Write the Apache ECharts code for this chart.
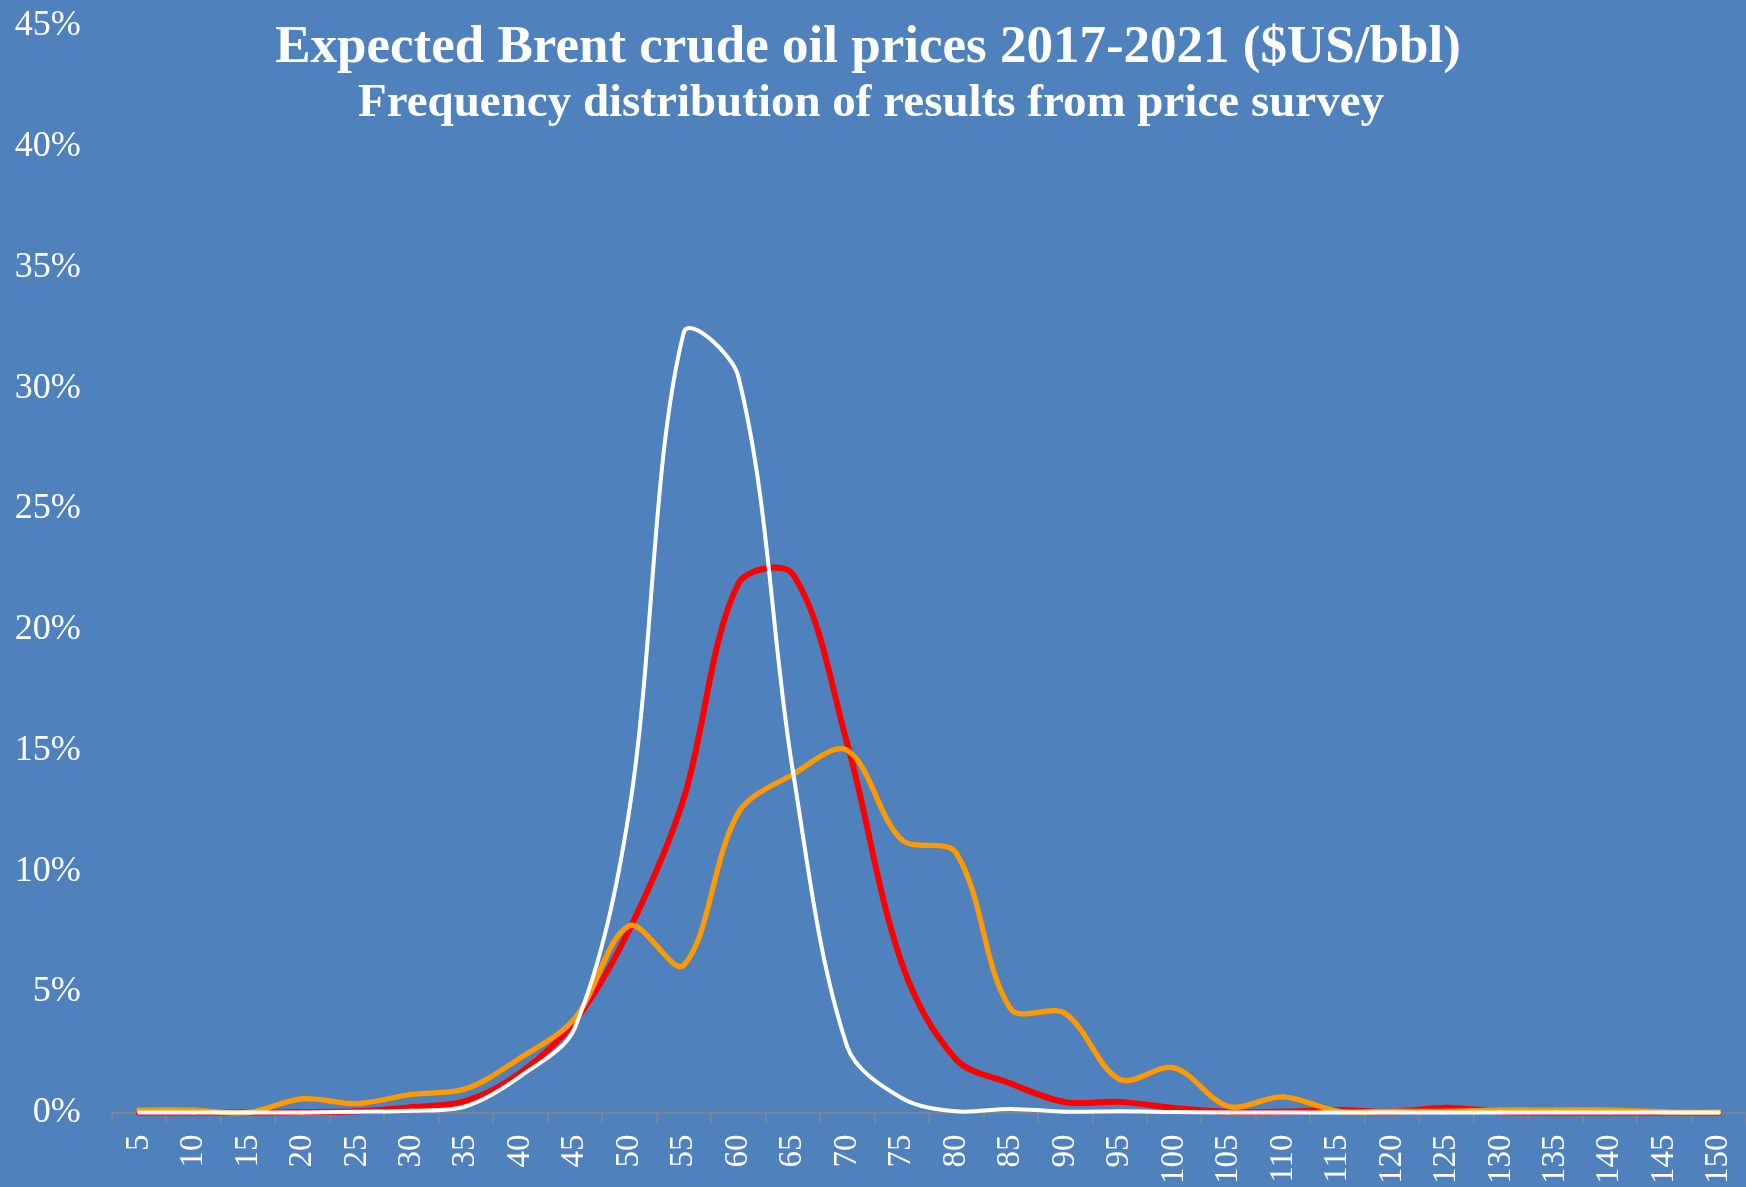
<!DOCTYPE html>
<html>
<head>
<meta charset="utf-8">
<script src="https://cdn.jsdelivr.net/npm/echarts@6/dist/echarts.min.js"></script>
<style>
html,body{margin:0;padding:0;background:#4F81BD;}
#chart{width:1746px;height:1187px;}
</style>
</head>
<body>
<div id="chart"></div>
<script>
const categories = ['5','10','15','20','25','30','35','40','45','50','55','60','65','70','75','80','85','90','95','100','105','110','115','120','125','130','135','140','145','150'];
const whiteSeries = [0, 0, 0, 0, 0.03, 0.07, 0.26, 1.5, 3.5, 12.5, 32.3, 30.5, 14.2, 2.74, 0.6, 0.05, 0.15, 0.03, 0.05, 0.02, 0, 0, 0, 0, 0, 0, 0, 0, 0, 0];
const redSeries = [0, 0, 0, 0.02, 0.05, 0.22, 0.47, 1.64, 3.78, 7.57, 13.0, 21.9, 22.3, 15.3, 6.2, 2.2, 1.2, 0.43, 0.44, 0.19, 0.03, 0.03, 0.1, 0.03, 0.2, 0.03, 0, 0, 0, 0];
const orangeSeries = [0.1, 0.1, 0, 0.57, 0.37, 0.75, 0.98, 2.26, 3.9, 7.74, 6.1, 12.4, 14.0, 15.0, 11.3, 10.75, 4.3, 4.1, 1.37, 1.85, 0.25, 0.65, 0.06, 0.05, 0.05, 0.1, 0.1, 0.1, 0.03, 0.02];
const yTicks = {min: 0, max: 45, interval: 5};
const titleText = 'Expected Brent crude oil prices 2017-2021 ($US/bbl)';
const subtitleText = 'Frequency distribution of results from price survey';

const serif = '"Liberation Serif", "Times New Roman", serif';

// Smoothed line (Excel-like chord-weighted Bezier), points placed through the chart's own axes via api.coord
function smoothCurve(name, values, color, width, z) {
  const n = values.length;
  const s = 1 / 3;
  return {
    name: name,
    type: 'custom',
    z: z,
    clip: false,
    data: values.map((v, i) => [i, v]),
    encode: {x: 0, y: 1},
    renderItem: function (params, api) {
      const i = params.dataIndex;
      if (i >= n - 1) return {type: 'group', children: []};
      const pt = k => {
        const kk = Math.max(0, Math.min(n - 1, k));
        return api.coord([kk, values[kk]]);
      };
      const dist = (a, b) => Math.hypot(b[0] - a[0], b[1] - a[1]);
      const p0 = pt(i - 1), p1 = pt(i), p2 = pt(i + 1), p3 = pt(i + 2);
      let c1 = [p1[0], p1[1]];
      if (i > 0) {
        const dPrev = dist(p0, p1), dNext = dist(p1, p2);
        const r = dNext / (dPrev + dNext || 1);
        c1 = [p1[0] + (p2[0] - p0[0]) * s * r, p1[1] + (p2[1] - p0[1]) * s * r];
      }
      let c2 = [p2[0], p2[1]];
      if (i + 1 < n - 1) {
        const dPrev = dist(p1, p2), dNext = dist(p2, p3);
        const r = dPrev / (dPrev + dNext || 1);
        c2 = [p2[0] - (p3[0] - p1[0]) * s * r, p2[1] - (p3[1] - p1[1]) * s * r];
      }
      return {
        type: 'bezierCurve',
        shape: {x1: p1[0], y1: p1[1], x2: p2[0], y2: p2[1], cpx1: c1[0], cpy1: c1[1], cpx2: c2[0], cpy2: c2[1]},
        style: {stroke: color, lineWidth: width, fill: 'none', lineCap: 'round'}
      };
    }
  };
}

const chart = echarts.init(document.getElementById('chart'), null, {renderer: 'canvas'});
chart.setOption({
  backgroundColor: '#4F81BD',
  animation: false,
  graphic: [
    {type: 'text', x: 868, y: 48, style: {text: titleText, font: 'bold 53px ' + serif, fill: '#FFFFFF', textAlign: 'center', textVerticalAlign: 'middle'}},
    {type: 'text', x: 871, y: 104, style: {text: subtitleText, font: 'bold 47px ' + serif, fill: '#FFFFFF', textAlign: 'center', textVerticalAlign: 'middle'}}
  ],
  grid: {left: 111.7, right: -11.6, top: 26, bottom: 74, containLabel: false},
  xAxis: {
    type: 'category',
    data: categories,
    boundaryGap: true,
    axisLine: {show: true, lineStyle: {color: '#868686', width: 1.5}},
    axisTick: {show: true, length: 11, alignWithLabel: false, lineStyle: {color: '#868686', width: 1.5}},
    axisLabel: {rotate: 90, margin: 22, color: '#FFFFFF', fontFamily: serif, fontSize: 33, interval: 0}
  },
  yAxis: {
    type: 'value',
    min: yTicks.min, max: yTicks.max, interval: yTicks.interval,
    axisLine: {show: false},
    axisTick: {show: false},
    splitLine: {show: false},
    axisLabel: {formatter: '{value}%', color: '#FFFFFF', fontFamily: serif, fontSize: 36, margin: 31}
  },
  series: [
    smoothCurve('red', redSeries, '#FF0000', 6, 2),
    smoothCurve('orange', orangeSeries, '#FF9900', 5.3, 3),
    smoothCurve('white', whiteSeries, '#FFFFFF', 4, 4)
  ]
});
</script>
</body>
</html>
